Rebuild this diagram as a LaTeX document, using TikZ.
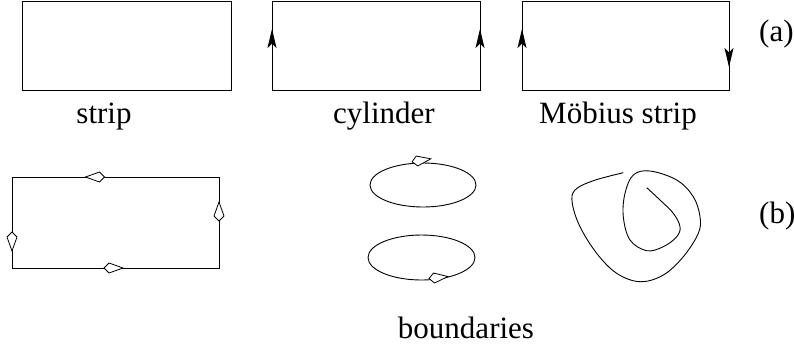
\documentclass[tikz,border=0pt]{standalone}
\usepackage{fontspec}
\setmainfont{Liberation Serif}
\usetikzlibrary{arrows.meta}
\tikzset{
  edge/.style={line width=0.9pt},
  flow/.style={line width=0.9pt,-{Stealth[length=19pt,width=9pt,inset=4.5pt]}},
  lbl/.style={font=\fontsize{31}{37}\selectfont,inner sep=0pt,anchor=base},
  kite/.pic={\draw[line width=0.8pt,fill=white] (14,0) -- (0,5) -- (-5,0) -- (0,-5) -- cycle;}
}
\begin{document}
\begin{tikzpicture}[x=1pt,y=-1pt]
\useasboundingbox (0,0) rectangle (794,349);
% (a) strip, cylinder, Moebius strip
\draw[edge] (22,1) rectangle (231,90);
\draw[edge] (272,1) rectangle (480,90);
\draw[edge] (522,1) rectangle (729,90);
\coordinate (cl0) at (272,52); \coordinate (cl1) at (272,29);
\coordinate (cr0) at (480,52); \coordinate (cr1) at (480,29);
\coordinate (ml0) at (522,52); \coordinate (ml1) at (522,29);
\coordinate (mr0) at (729,45); \coordinate (mr1) at (729,67);
\draw[flow] (cl0) -- (cl1);
\draw[flow] (cr0) -- (cr1);
\draw[flow] (ml0) -- (ml1);
\draw[flow] (mr0) -- (mr1);
\node[lbl] (strip) at (104,123) {strip};
\node[lbl] (cyl) at (384,123) {cylinder};
\node[lbl] (mob) at (618,123) {Möbius strip};
\node[lbl,anchor=base west] (a) at (759,41) {(a)};
% (b) boundaries
\draw[edge] (12,177) rectangle (219,268);
\pic[rotate=180] at (99.5,177) {kite};
\pic[rotate=90] at (219,216) {kite};
\pic[rotate=-90] at (12,237) {kite};
\pic at (109,268) {kite};
\draw[edge] (423,185) ellipse [x radius=53, y radius=22];
\draw[edge] (421.5,257.5) ellipse [x radius=53.5, y radius=22.5];
\pic[rotate=9] at (417,161) {kite};
\pic[rotate=6] at (434,278) {kite};
\draw[edge] plot[smooth,tension=0.6] coordinates {
  (623.3,172.7) (593.3,180.7) (575,190) (572.3,203.3) (580,226.7)
  (596.7,253.3) (616.7,273.3) (640,281.7) (663.3,275) (683.3,256.7)
  (698.3,233.3) (700,216.7) (693.3,196.7) (676.7,180) (650,171)
  (633.3,175) (625,193.3) (623.3,216.7) (630,240) (646.7,250.7)
  (663.3,246.7) (676.7,236.7) (680,226.7) (673.3,213.3) (660,200)
  (646.7,187.7)};
\node[lbl,anchor=base west] (b) at (759,223) {(b)};
\node[lbl] (bd) at (466,338) {boundaries};
\end{tikzpicture}
\end{document}
